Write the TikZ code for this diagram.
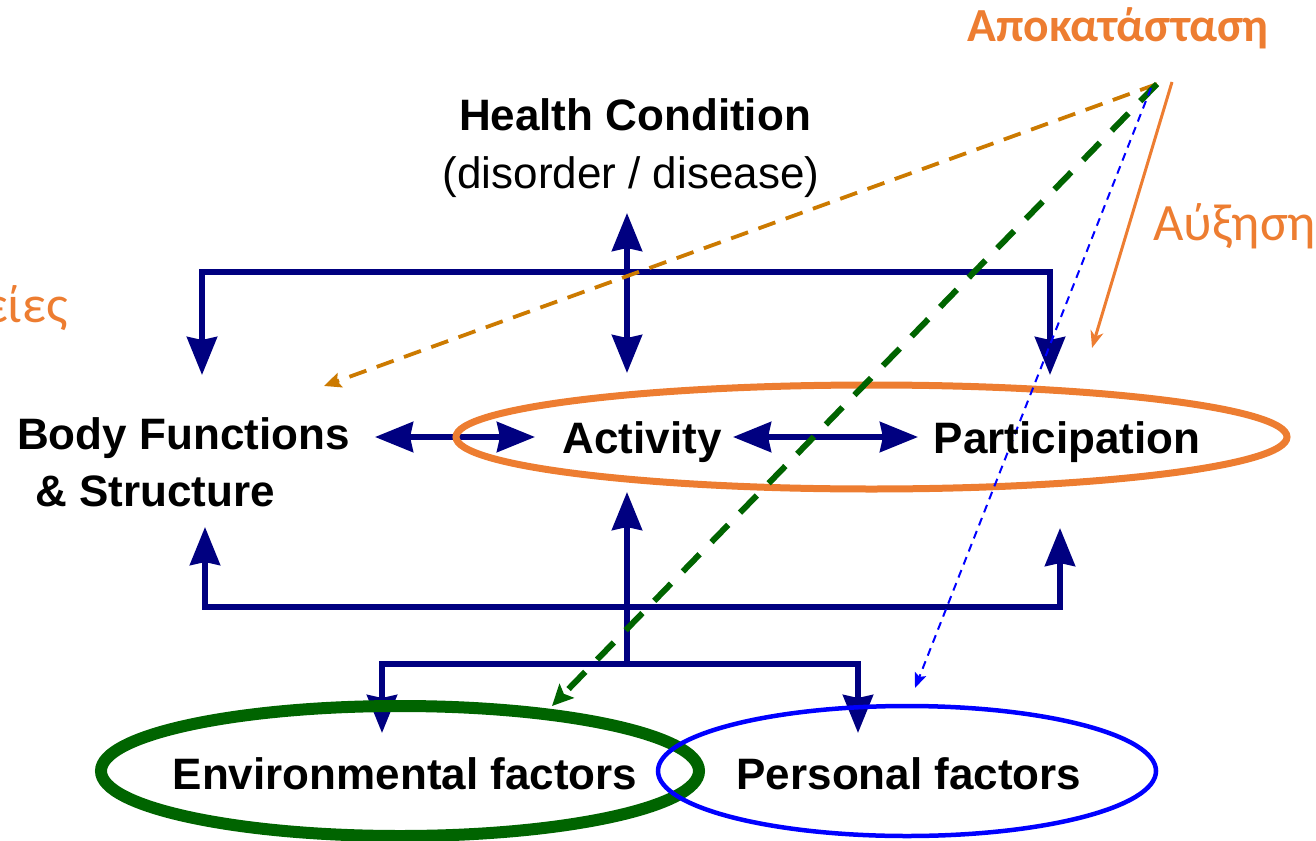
\documentclass[tikz,border=0pt]{standalone}
\usepackage{fontspec}
\setmainfont{Liberation Sans}
\newfontfamily\grk{Carlito}
\usetikzlibrary{arrows.meta,shapes.geometric}

\definecolor{icfnavy}{RGB}{0,0,128}
\definecolor{rehaborange}{RGB}{237,125,49}
\definecolor{envgreen}{RGB}{0,100,0}
\definecolor{persblue}{RGB}{0,0,255}
\definecolor{therapybrown}{RGB}{204,122,0}

\tikzset{
  label/.style={inner sep=0pt, anchor=base, font=\fontsize{44}{50}\selectfont\bfseries},
  sublabel/.style={inner sep=0pt, anchor=base, font=\fontsize{44}{50}\selectfont},
  greeklabel/.style={inner sep=0pt, anchor=base, text=rehaborange},
  link/.style={draw=icfnavy, line width=5.5pt, line join=miter,
    arrows={Stealth[length=38pt,width=30pt,inset=3pt]-Stealth[length=38pt,width=30pt,inset=3pt]}},
  uplink/.style={draw=icfnavy, line width=5.5pt, -{Stealth[length=38pt,width=30pt,inset=3pt]}},
  ring/.style={ellipse, inner sep=0pt},
  therapy/.style={draw=therapybrown, line width=3.8pt, dash pattern=on 18pt off 11pt,
    -{Stealth[length=17pt,width=15pt,inset=3pt]}},
  environ/.style={draw=envgreen, line width=6pt, dash pattern=on 24pt off 17pt,
    -{Stealth[length=21pt,width=20pt,inset=4pt]}},
  personal/.style={draw=persblue, line width=2pt, dash pattern=on 8pt off 6pt,
    -{Stealth[length=15pt,width=12pt,inset=3pt]}},
  increase/.style={draw=rehaborange, line width=3pt,
    -{Stealth[length=17pt,width=13pt,inset=5pt]}}
}

\begin{document}
\begin{tikzpicture}[x=1pt,y=-1pt]
\useasboundingbox (0,0) rectangle (1316,840);

% anchor points of the model's connectors
\coordinate (hcA)   at (627,213);
\coordinate (actA)  at (627,373);
\coordinate (bfIn)  at (202,375);
\coordinate (topR)  at (1050,272);
\coordinate (parIn) at (1050,375);
\coordinate (bfR)   at (375,437);
\coordinate (actL)  at (535,437);
\coordinate (actR)  at (733,437);
\coordinate (parL)  at (918,437);
\coordinate (bfOut) at (205,527);
\coordinate (botR)  at (1060,607);
\coordinate (parOut) at (1060,528);
\coordinate (ctxTop) at (627,664);
\coordinate (actB)  at (627,492);
\coordinate (envIn) at (382,733);
\coordinate (ctxR)  at (858,664);
\coordinate (perIn) at (858,733);

% rehabilitation arrows
\coordinate (rehab)   at (1157,84);
\coordinate (rehabB)  at (1151,88);
\coordinate (rehabO)  at (1172,82);
\coordinate (thTip)   at (324,386);
\coordinate (envTip)  at (552,706);
\coordinate (perTip)  at (915,688);
\coordinate (incTip)  at (1092,348);

% connectors between the components
\draw[link] (hcA) -- (actA);
\draw[link] (bfIn) |- (topR) -- (parIn);
\draw[link] (bfR) -- (actL);
\draw[link] (actR) -- (parL);
\draw[link] (bfOut) |- (botR) -- (parOut);
\draw[uplink] (ctxTop) -- (actB);
\draw[link] (envIn) |- (ctxR) -- (perIn);

% groupings
\node[ring, draw=rehaborange, line width=7pt, minimum width=831pt, minimum height=104pt] (actpart) at (871.5,437) {};
\node[ring, draw=envgreen, line width=12pt, minimum width=598pt, minimum height=130pt] (envring) at (400,771) {};
\node[ring, draw=persblue, line width=4.5pt, minimum width=498pt, minimum height=130pt] (perring) at (907,771) {};

% interventions
\draw[therapy] (rehab) -- (thTip);
\draw[environ] (rehab) -- (envTip);
\draw[personal] (rehabB) -- (perTip);
\draw[increase] (rehabO) -- (incTip);

% component labels
\node[label] (hc) at (635,130) {Health Condition};
\node[sublabel] (hcsub) at (631,188) {(disorder / disease)};
\node[label, anchor=base west] (bf1) at (17,449) {Body Functions};
\node[label, anchor=base west] (bf2) at (35,506) {\& Structure};
\node[label] (act) at (642,453) {Activity};
\node[label] (par) at (1067,453) {Participation};
\node[label] (env) at (405,789) {Environmental factors};
\node[label] (per) at (909,789) {Personal factors};

% Greek annotations
\node[greeklabel, font=\grk\fontsize{47.5}{54}\selectfont\bfseries] (rehabtext) at (1118,42) {Αποκατάσταση};
\node[greeklabel, anchor=base west, font=\grk\fontsize{52.5}{58}\selectfont] (inc) at (1153,240) {Αύξηση};
\node[greeklabel, anchor=base east, font=\grk\fontsize{52.5}{58}\selectfont] (ther) at (68,322) {Θεραπείες};
\end{tikzpicture}
\end{document}
